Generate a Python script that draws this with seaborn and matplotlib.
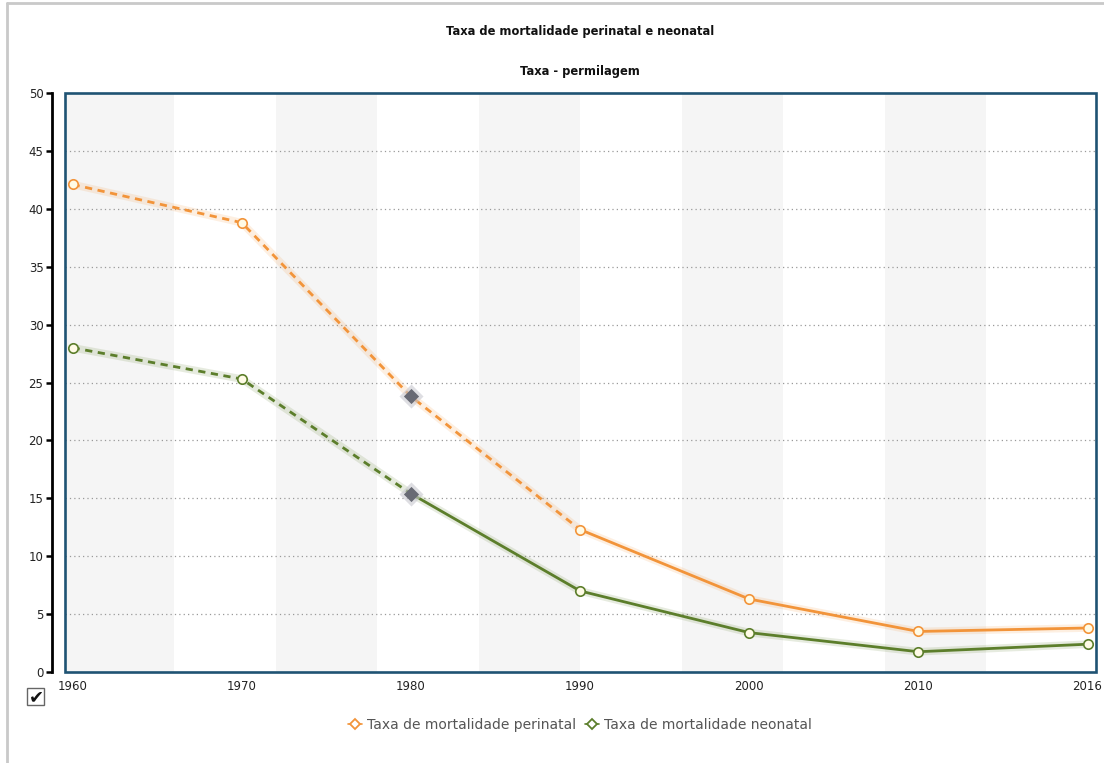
import matplotlib
matplotlib.use("Agg")
import matplotlib.pyplot as plt
from matplotlib.lines import Line2D
from matplotlib.patches import Rectangle
import seaborn as sns
import pandas as pd

# --- data -------------------------------------------------------------
years = ["1960", "1970", "1980", "1990", "2000", "2010", "2016"]
perinatal = [42.1, 38.8, 23.8, 12.3, 6.3, 3.5, 3.8]
neonatal = [28.0, 25.3, 15.4, 7.0, 3.4, 1.75, 2.4]
# index of the last point of the dashed stretch of each series
perinatal_dash_end = 3
neonatal_dash_end = 2
# highlighted category
highlight_year = "1980"

series_names = ["Taxa de mortalidade perinatal", "Taxa de mortalidade neonatal"]
title = "Taxa de mortalidade perinatal e neonatal"
subtitle = "Taxa - permilagem"
y_ticks = [0, 5, 10, 15, 20, 25, 30, 35, 40, 45, 50]

# --- style ------------------------------------------------------------
sns.set_theme(style="white")
plt.rcParams["font.family"] = ["DejaVu Sans"]

ORANGE = "#f2943a"
GREEN = "#5c7e2b"
FRAME = "#1f5373"
MARKER_FILL = "#fffbe6"

fig = plt.figure(figsize=(11.04, 7.63), dpi=100)
ax = fig.add_axes([65 / 1104, 91 / 763, 1031 / 1104, 579 / 763])

pos = list(range(len(years)))
x_lo, x_hi = -0.045, 6.05
ax.set_xlim(x_lo, x_hi)
ax.set_ylim(0, 50)

# alternating vertical bands, each 0.6 category wide, across the data range
band = 0.6
n_bands = int(round((len(years) - 1) / band))
for k in range(0, n_bands, 2):
    ax.axvspan(k * band if k else x_lo - 1, (k + 1) * band,
               color="#f5f5f5", lw=0, zorder=0)

# dotted horizontal grid
for t in y_ticks[1:-1]:
    ax.axhline(t, color="#9a9a9a", lw=0.9, ls=(0, (1, 2.5)), zorder=1)


def draw_series(values, dash_end, color):
    df = pd.DataFrame({"pos": pos, "value": values})
    dashed = df.iloc[: dash_end + 1]
    solid = df.iloc[dash_end:]
    # soft glow beneath the line
    sns.lineplot(data=df, x="pos", y="value", ax=ax, color=color, lw=5.5,
                 alpha=0.15, zorder=2, legend=False)
    sns.lineplot(data=dashed, x="pos", y="value", ax=ax, color=color, lw=2.0,
                 linestyle=(0, (2.6, 2.0)), zorder=3, legend=False)
    sns.lineplot(data=solid, x="pos", y="value", ax=ax, color=color, lw=2.0,
                 zorder=3, legend=False)
    hi = years.index(highlight_year)
    normal = df[df["pos"] != hi]
    ax.scatter(normal["pos"], normal["value"], s=46, marker="o",
               facecolor=MARKER_FILL, edgecolor=color, linewidth=1.2, zorder=4,
               clip_on=False)
    # highlighted point
    ax.scatter([hi], [values[hi]], s=150, marker="D", color="#c8c8d0",
               alpha=0.6, lw=0, zorder=4)
    ax.scatter([hi], [values[hi]], s=60, marker="D", color="#686a74",
               lw=0, zorder=5)


draw_series(perinatal, perinatal_dash_end, ORANGE)
draw_series(neonatal, neonatal_dash_end, GREEN)

# axes styling
for side in ["top", "right", "bottom"]:
    ax.spines[side].set_visible(False)
ax.spines["left"].set_position(("outward", 9.5))
ax.spines["left"].set_color("black")
ax.spines["left"].set_linewidth(2.0)
ax.add_patch(Rectangle((0, 0), 1, 1, transform=ax.transAxes, fill=False,
                       edgecolor=FRAME, lw=1.9, clip_on=False, zorder=6))

ax.set_yticks(y_ticks)
ax.set_yticklabels([str(t) for t in y_ticks])
ax.set_xticks(pos)
ax.set_xticklabels(years)
ax.tick_params(axis="y", left=True, length=4.5, width=1.8, color="black",
               pad=1.5, labelsize=8.5, labelcolor="#222222")
ax.tick_params(axis="x", bottom=False, length=0, pad=6, labelsize=8.5,
               labelcolor="#222222")
ax.set_xlabel("")
ax.set_ylabel("")

# titles
fig.text(580 / 1104, 1 - 32 / 763, title, ha="center", va="center",
         fontsize=8.3, fontweight="bold", color="#111111")
fig.text(580 / 1104, 1 - 72 / 763, subtitle, ha="center", va="center",
         fontsize=8.3, fontweight="bold", color="#111111")

# legend
handles = [
    Line2D([], [], color=ORANGE, lw=1.2, marker="D", markersize=5.5,
           markerfacecolor="white", markeredgecolor=ORANGE, markeredgewidth=1.3),
    Line2D([], [], color=GREEN, lw=1.2, marker="D", markersize=5.5,
           markerfacecolor="white", markeredgecolor=GREEN, markeredgewidth=1.3),
]
fig.legend(handles, series_names, loc="center", ncol=2,
           bbox_to_anchor=(580 / 1104, 1 - 725 / 763), frameon=False,
           fontsize=10, labelcolor="#555555", handlelength=1.0,
           handletextpad=0.4, columnspacing=0.6)

# outer panel border (top and left)
fig.add_artist(Line2D([7 / 1104, 1], [1 - 3 / 763, 1 - 3 / 763],
                      transform=fig.transFigure, color="#c9c9c9", lw=2))
fig.add_artist(Line2D([7 / 1104, 7 / 1104], [0, 1 - 3 / 763],
                      transform=fig.transFigure, color="#c9c9c9", lw=2))

# checkbox
fig.add_artist(Rectangle((27 / 1104, 1 - 705 / 763), 17 / 1104, 17 / 763,
                         transform=fig.transFigure, fill=False,
                         edgecolor="#666666", lw=1))
fig.text(36 / 1104, 1 - 697 / 763, "\u2714", ha="center", va="center",
         fontsize=13, color="#111111")

fig.savefig("out.png", dpi=100)
